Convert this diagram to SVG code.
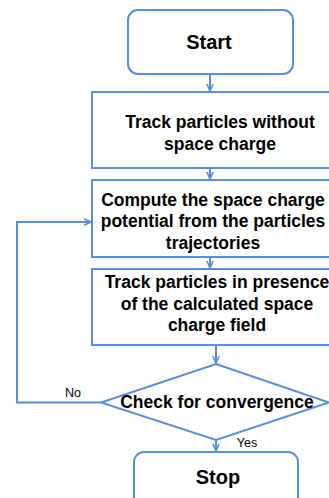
<svg xmlns="http://www.w3.org/2000/svg" width="329" height="498" viewBox="0 0 329 498">
<defs>
<style>
.box{fill:#fff;stroke:#5b8ed6;stroke-width:2}
.t{font-family:"Liberation Sans",Arial,sans-serif;font-weight:bold;font-size:17.5px;fill:#000;text-anchor:middle}
.big{font-size:20px}
.lbl{font-family:"Liberation Sans",Arial,sans-serif;font-size:12.5px;fill:#000;text-anchor:middle}
.c{fill:none;stroke:#5b8ed6;stroke-width:2}
</style>
<marker id="ah" viewBox="0 0 10 10" refX="9" refY="5" markerWidth="4" markerHeight="4" orient="auto" markerUnits="strokeWidth">
<path d="M0,1 L9,5 L0,9" fill="none" stroke="#5b8ed6" stroke-width="2"/>
</marker>
</defs>
<rect width="329" height="498" fill="#fff"/>
<g id="connectors">
<line class="c" x1="210" y1="74" x2="210" y2="91" marker-end="url(#ah)"/>
<line class="c" x1="210" y1="168" x2="210" y2="179" marker-end="url(#ah)"/>
<line class="c" x1="210" y1="257" x2="210" y2="268" marker-end="url(#ah)"/>
<line class="c" x1="216" y1="345" x2="216" y2="363" marker-end="url(#ah)"/>
<line class="c" x1="216" y1="440" x2="216" y2="451" marker-end="url(#ah)"/>
<polyline class="c" points="101,402.5 17,402.5 17,222 91,222" marker-end="url(#ah)"/>
<text class="lbl" x="73" y="397">No</text>
<text class="lbl" x="247" y="447">Yes</text>
</g>
<g id="start">
<rect class="box" x="128" y="10" width="165" height="64" rx="10"/>
<text class="t big" x="209" y="49">Start</text>
</g>
<g id="track1">
<rect class="box" x="92" y="92" width="250" height="76"/>
<text class="t" x="220" y="128">Track particles without</text>
<text class="t" x="220" y="150">space charge</text>
</g>
<g id="compute">
<rect class="box" x="92" y="180" width="250" height="77"/>
<text class="t" x="213" y="206">Compute the space charge</text>
<text class="t" x="213" y="227">potential from the particles</text>
<text class="t" x="213" y="249">trajectories</text>
</g>
<g id="track2">
<rect class="box" x="92" y="269" width="250" height="76"/>
<text class="t" x="217" y="288">Track particles in presence</text>
<text class="t" x="217" y="310">of the calculated space</text>
<text class="t" x="217" y="331">charge field</text>
</g>
<g id="check">
<polygon class="box" points="216,364 329,402.5 216,440 101,402.5"/>
<text class="t" x="217" y="408">Check for convergence</text>
</g>
<g id="stop">
<rect class="box" x="134" y="452" width="164" height="60" rx="10"/>
<text class="t big" x="218" y="484">Stop</text>
</g>
</svg>
